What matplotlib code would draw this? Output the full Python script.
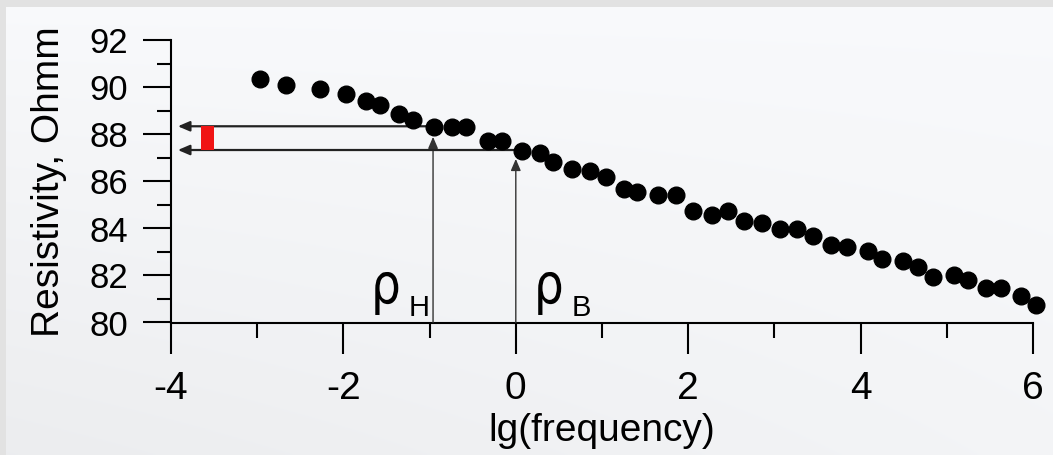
import numpy as np
import matplotlib
matplotlib.use("Agg")
from matplotlib import pyplot as plt
from matplotlib.ticker import MultipleLocator
from matplotlib.patches import Rectangle, PathPatch
from matplotlib.textpath import TextPath
from matplotlib.font_manager import FontProperties
from matplotlib.transforms import Affine2D

# measured resistivity vs log10 of frequency
lg_freq = [-2.97, -2.67, -2.27, -1.97, -1.74, -1.57, -1.36, -1.19,
           -0.95, -0.74, -0.58, -0.32, -0.16, 0.07, 0.28, 0.43, 0.65, 0.86, 1.05,
           1.25, 1.41, 1.65, 1.86, 2.05, 2.28, 2.46, 2.65, 2.86, 3.06, 3.26, 3.45,
           3.66, 3.84, 4.09, 4.25, 4.49, 4.67, 4.84, 5.08, 5.25, 5.45, 5.63, 5.86, 6.04]
resistivity = [90.36, 90.09, 89.92, 89.71, 89.43, 89.26, 88.87, 88.62,
               88.33, 88.33, 88.33, 87.72, 87.72, 87.31, 87.20, 86.83, 86.53, 86.43, 86.18,
               85.69, 85.57, 85.43, 85.43, 84.73, 84.57, 84.73, 84.33, 84.22, 83.98, 83.98, 83.70,
               83.30, 83.20, 83.04, 82.69, 82.62, 82.35, 81.92, 82.02, 81.81, 81.48, 81.48, 81.14, 80.73]

# low / high frequency readings
rho_x = [-0.96, 0.0]
rho_level = [88.35, 87.34]
rho_tip = [87.9, 86.96]
rho_names = ["H", "B"]
rho_label_x = [-1.63, 0.26]
sub_label_x = [-1.24, 0.65]
arrow_end = -3.92
bar_x = [-3.655, -3.5]

x_ticks = [-4, -2, 0, 2, 4, 6]
y_ticks = [80, 82, 84, 86, 88, 90, 92]

plt.rcParams['font.family'] = ['Liberation Sans', 'DejaVu Sans']
plt.rcParams['axes.unicode_minus'] = False

fig = plt.figure(figsize=(10.53, 4.55), dpi=100)

# slide background: light gradient with a thin grey frame
bg = fig.add_axes([0, 0, 1, 1], zorder=-10)
gy, gx = np.mgrid[0:1:200j, 0:1:400j]
shade = 0.975 - 0.05 * gy * (1 - 0.6 * gx)
rgb = np.dstack([shade, shade + 0.004, shade + 0.012]).clip(0, 1)
bg.imshow(rgb, extent=[0, 1, 0, 1], aspect='auto')
bg.add_patch(Rectangle((0, 0), 6 / 1053, 1, color='#e2e2e2', lw=0))
bg.add_patch(Rectangle((0, 1 - 7 / 455), 1, 7 / 455, color='#e2e2e2', lw=0))
bg.set_xlim(0, 1)
bg.set_ylim(0, 1)
bg.axis('off')

ax = fig.add_axes([171 / 1053, 132.5 / 455, 862 / 1053, 282 / 455])
ax.patch.set_alpha(0)
ax.set_xlim(-4, 6)
ax.set_ylim(80, 92)

ax.plot(lg_freq, resistivity, 'o', color='black', ms=12, clip_on=False, zorder=5)

# arrows from the points down to the axis and across to the resistivity axis
for x, level, tip in zip(rho_x, rho_level, rho_tip):
    ax.annotate("", xy=(x, tip), xytext=(x, 80),
                arrowprops=dict(arrowstyle='-|>,head_length=0.7,head_width=0.3',
                                color='#333333', lw=1.0, shrinkA=0, shrinkB=0))
    ax.annotate("", xy=(arrow_end, level), xytext=(x, level),
                arrowprops=dict(arrowstyle='-|>,head_length=0.7,head_width=0.3',
                                color='#222222', lw=1.6, shrinkA=0, shrinkB=0))

ax.add_patch(Rectangle((bar_x[0], rho_level[1]), bar_x[1] - bar_x[0],
                       rho_level[0] - rho_level[1], color='#f01414', lw=0, zorder=4))

# tall narrow rho, drawn as a stretched glyph outline (pixels: 23 wide, 43 tall)
rho_path = TextPath((0, 0), "ρ", size=1, prop=FontProperties(family='DejaVu Sans'))
ext = rho_path.get_extents()
for x, sx, name in zip(rho_label_x, sub_label_x, rho_names):
    px, py = ax.transData.transform((x, 80.32))
    tr = (Affine2D().translate(-ext.x0, -ext.y0)
          .scale(23 / ext.width, 43 / ext.height).translate(px, py))
    fig.patches.append(PathPatch(rho_path, transform=tr, color='black', lw=0,
                                 figure=fig))
    ax.text(sx, 80.28, name, fontsize=21, ha='left', va='baseline')

ax.set_xticks(x_ticks)
ax.set_yticks(y_ticks)
ax.xaxis.set_minor_locator(MultipleLocator(1))
ax.yaxis.set_minor_locator(MultipleLocator(1))
for side in ['top', 'right']:
    ax.spines[side].set_visible(False)
for side in ['left', 'bottom']:
    ax.spines[side].set_linewidth(1.5)
ax.tick_params(axis='x', which='major', direction='out', length=22, width=1.5,
               labelsize=28, pad=13)
ax.tick_params(axis='x', which='minor', direction='out', length=11, width=1.5)
ax.tick_params(axis='y', which='major', direction='out', length=20, width=1.5,
               labelsize=25, pad=11)
ax.tick_params(axis='y', which='minor', direction='out', length=10, width=1.5)

ax.set_xlabel("lg(frequency)", fontsize=28, labelpad=4)
ax.set_ylabel("Resistivity, Ohmm", fontsize=28, labelpad=16)

fig.savefig("out.png", dpi=100)
